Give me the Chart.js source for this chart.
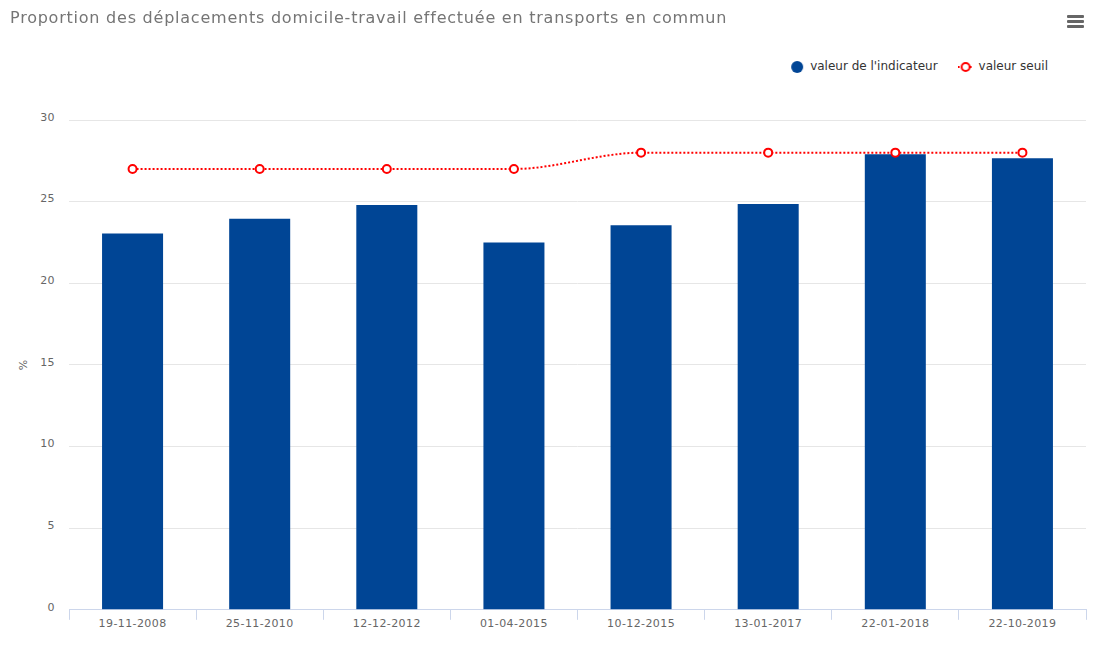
<!DOCTYPE html>
<html lang="fr">
<head>
<meta charset="utf-8">
<title>Proportion des déplacements domicile-travail</title>
<script src="https://cdn.jsdelivr.net/npm/chart.js@4"></script>
<style>
	html, body { margin: 0; padding: 0; background: #fff; }
	#wrap { position: relative; width: 1096px; height: 650px; overflow: hidden; }
	#chart { display: block; }
	#heading { position: absolute; left: 10px; top: 8px; margin: 0; white-space: nowrap; font: normal 16px/20px "DejaVu Sans", sans-serif; letter-spacing: 0.77px; color: #757575; }
	#menu { position: absolute; left: 1067px; top: 15px; width: 17px; }
	#menu span { display: block; height: 3px; margin-bottom: 2px; background: #666; border-radius: 1px; }
</style>
</head>
<body>
<div id="wrap">
	<canvas id="chart" width="1096" height="650"></canvas>
	<h1 id="heading">Proportion des déplacements domicile-travail effectuée en transports en commun</h1>
	<div id="menu"><span></span><span></span><span></span></div>
</div>
<script>
const dates = ['19-11-2008', '25-11-2010', '12-12-2012', '01-04-2015', '10-12-2015', '13-01-2017', '22-01-2018', '22-10-2019'];
const indicateur = [23.05, 23.95, 24.8, 22.5, 23.55, 24.85, 27.9, 27.65];
const seuil = [27, 27, 27, 27, 28, 28, 28, 28];
const BLUE = '#004595';
const RED = '#ff0000';
const FONT = '"DejaVu Sans", sans-serif';
const AXIS_SPACING = '0.4px';

// Legend markers are small canvases so they keep their own size
function indicateurMarker() {
	const c = document.createElement('canvas');
	c.width = 14; c.height = 14;
	const g = c.getContext('2d');
	g.fillStyle = BLUE;
	g.beginPath(); g.arc(7, 7, 6, 0, Math.PI * 2); g.fill();
	return c;
}

function seuilMarker() {
	const c = document.createElement('canvas');
	c.width = 16; c.height = 12;
	const g = c.getContext('2d');
	g.strokeStyle = RED;
	g.lineWidth = 2;
	g.setLineDash([2, 2]);
	g.beginPath(); g.moveTo(0, 6); g.lineTo(16, 6); g.stroke();
	g.setLineDash([]);
	g.fillStyle = '#fff';
	g.beginPath(); g.arc(8, 6, 4, 0, Math.PI * 2); g.fill(); g.stroke();
	return c;
}

// Run a legend method with plain lettering
function plainText(box, name) {
	const fn = box[name];
	box[name] = function (...args) {
		const ctx = this.ctx;
		ctx.letterSpacing = '0px';
		const res = fn.apply(this, args);
		ctx.letterSpacing = AXIS_SPACING;
		return res;
	};
}

// Axis labels are spaced out in the original, the legend is not
const lettering = {
	id: 'lettering',
	beforeLayout(chart) {
		chart.ctx.letterSpacing = AXIS_SPACING;
		if (!chart.legend._plain) {
			plainText(chart.legend, 'fit');
			plainText(chart.legend, 'draw');
			chart.legend._plain = true;
		}
	}
};

// Opaque canvas needs its own white backdrop
const backdrop = {
	id: 'backdrop',
	beforeDraw(chart) {
		chart.ctx.fillStyle = '#fff';
		chart.ctx.fillRect(0, 0, chart.width, chart.height);
	}
};

// Legend sits right of centre and above the plot, not against the edge
const legendPlace = {
	id: 'legendPlace',
	afterLayout(chart) {
		const l = chart.legend;
		const h = l.bottom - l.top;
		l.top = 40;
		l.bottom = 40 + h;
		l.right = 1069.01;
	}
};

const canvas = document.getElementById('chart');
canvas.getContext('2d', { alpha: false });
const markers = [indicateurMarker(), seuilMarker()];

new Chart(canvas, {
	data: {
		labels: dates,
		datasets: [
			{
				type: 'line', label: 'valeur seuil', data: seuil, order: 1,
				borderColor: RED, borderWidth: 2, borderDash: [2, 2],
				cubicInterpolationMode: 'monotone',
				pointRadius: 4, pointBorderWidth: 2,
				pointBackgroundColor: '#fff', pointBorderColor: RED
			},
			{
				type: 'bar', label: "valeur de l'indicateur", data: indicateur, order: 2,
				backgroundColor: BLUE, barPercentage: 0.48, categoryPercentage: 1
			}
		]
	},
	options: {
		responsive: false,
		animation: false,
		layout: { padding: { left: 15, right: 10, top: 77, bottom: 21 } },
		plugins: {
			tooltip: { enabled: false },
			title: { display: false },
			legend: {
				position: 'top', align: 'end',
				labels: {
					font: { family: FONT, size: 12 }, color: '#333',
					usePointStyle: true, pointStyleWidth: 14, padding: 21,
					generateLabels: () => [
						{ text: "valeur de l'indicateur", pointStyle: markers[0], fontColor: '#333', lineWidth: 0 },
						{ text: 'valeur seuil', pointStyle: markers[1], fontColor: '#333', lineWidth: 0 }
					]
				}
			}
		},
		scales: {
			x: {
				grid: { drawOnChartArea: false, drawTicks: true, tickLength: 10, tickColor: '#ccd6eb' },
				border: { color: '#ccd6eb' },
				ticks: { color: '#666', font: { family: FONT, size: 11 }, padding: -2, maxRotation: 0, autoSkip: false }
			},
			y: {
				min: 0, max: 30,
				title: { display: true, text: '%', color: '#666', font: { family: FONT, size: 11 }, padding: { top: 3, bottom: 10 } },
				grid: { color: '#e6e6e6', drawTicks: false },
				border: { display: false },
				ticks: { stepSize: 5, color: '#666', font: { family: FONT, size: 11 }, padding: 14, labelOffset: -2 },
				afterFit(scale) { scale.width = 54; }
			}
		}
	},
	plugins: [backdrop, lettering, legendPlace]
});
</script>
</body>
</html>
